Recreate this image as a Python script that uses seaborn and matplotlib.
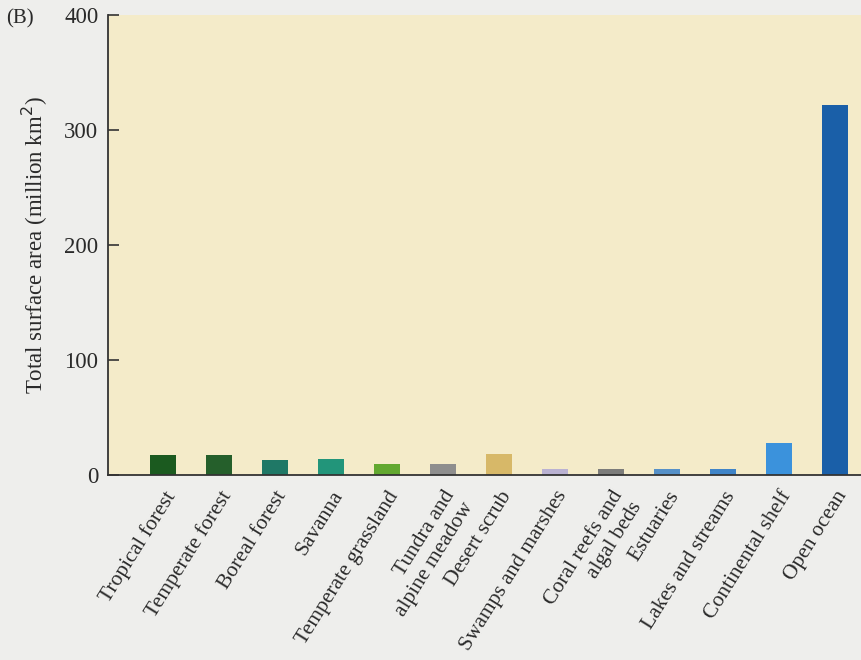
import matplotlib
matplotlib.use("Agg")
import matplotlib.pyplot as plt
import seaborn as sns
import pandas as pd

# Ecosystem types and their total surface area (million km^2)
ecosystems = [
    "Tropical forest", "Temperate forest", "Boreal forest", "Savanna",
    "Temperate grassland", "Tundra and\nalpine meadow", "Desert scrub",
    "Swamps and marshes", "Coral reefs and\nalgal beds", "Estuaries",
    "Lakes and streams", "Continental shelf", "Open ocean",
]
area = [17.5, 17.5, 13.3, 13.5, 9.3, 9.3, 18.5, 5.2, 5.2, 5.5, 5.5, 27.8, 322]
bar_colors = [
    "#1b5a1f", "#255f2b", "#1f7866", "#22957a", "#62a830", "#8e8e8e",
    "#d7b868", "#bab2d2", "#7c7c7a", "#5590c8", "#3f84c8", "#3b92dc",
    "#1a5fa8",
]
y_ticks = [0, 100, 200, 300, 400]

df = pd.DataFrame({"ecosystem": ecosystems, "area": area})

sns.set_theme(style="white")
plt.rcParams["font.family"] = ["Liberation Serif", "DejaVu Serif"]

fig = plt.figure(figsize=(8.62, 6.60), dpi=100)
fig.patch.set_facecolor("#eeeeec")
ax = fig.add_axes([108 / 862, 1 - 475 / 660, 1 - 108 / 862, 460 / 660])
ax.set_facecolor("#f4ebc9")

sns.barplot(data=df, x="ecosystem", y="area", hue="ecosystem",
            palette=bar_colors, width=0.46, legend=False, ax=ax,
            saturation=1.0, linewidth=0)

ax.set_xlim(-0.98, 12.48)
ax.set_ylim(0, 400)
ax.set_yticks(y_ticks)
ax.set_yticklabels([str(t) for t in y_ticks], fontsize=16.5, color="#2a2a2a")
ax.tick_params(axis="y", direction="in", length=8, width=1.2,
               color="#333333", pad=7, left=True)
ax.tick_params(axis="x", length=0, pad=9)

ax.set_xticks(range(len(ecosystems)))
ax.set_xticklabels(ecosystems, rotation=58, ha="right",
                   rotation_mode="anchor", fontsize=15.5, color="#2a2a2a",
                   multialignment="right", linespacing=1.2)

for side in ("top", "right"):
    ax.spines[side].set_visible(False)
for side in ("left", "bottom"):
    ax.spines[side].set_color("#333333")
    ax.spines[side].set_linewidth(1.3)

ax.set_xlabel("")
ax.set_ylabel("Total surface area (million km$^2$)", fontsize=16.5,
              color="#2a2a2a", labelpad=10)

fig.text(6 / 862, 1 - 19 / 660, "(B)", fontsize=15, color="#2a2a2a",
         va="center", ha="left")

fig.savefig("out.png", dpi=100, facecolor=fig.get_facecolor())
